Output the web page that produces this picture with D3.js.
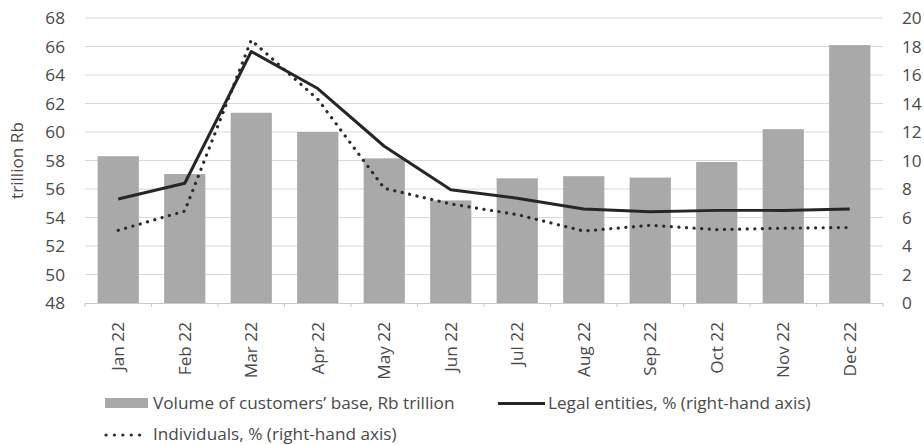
<!DOCTYPE html>
<html>
<head>
<meta charset="utf-8">
<script src="https://cdn.jsdelivr.net/npm/d3@7"></script>
<style>
  html, body { margin: 0; padding: 0; background: #fff; }
  svg { display: block; font-family: "Open Sans", sans-serif; }
</style>
</head>
<body>
<svg id="chart" width="924" height="445"></svg>
<script>
// Monthly data, 2022
const months = ["Jan 22", "Feb 22", "Mar 22", "Apr 22", "May 22", "Jun 22",
                "Jul 22", "Aug 22", "Sep 22", "Oct 22", "Nov 22", "Dec 22"];
// Volume of customers' base, Rb trillion (left axis)
const volume = [58.3, 57.05, 61.35, 60.0, 58.15, 55.2, 56.75, 56.9, 56.8, 57.9, 60.2, 66.1];
// Legal entities, % (right axis)
const legal = [7.3, 8.4, 17.65, 15.05, 11.0, 7.95, 7.35, 6.6, 6.4, 6.5, 6.5, 6.6];
// Individuals, % (right axis)
const individuals = [5.1, 6.45, 18.45, 14.3, 8.05, 6.95, 6.2, 5.05, 5.45, 5.15, 5.25, 5.3];
const leftTicks = [48, 50, 52, 54, 56, 58, 60, 62, 64, 66, 68];
const rightTicks = [0, 2, 4, 6, 8, 10, 12, 14, 16, 18, 20];

const svg = d3.select("#chart");
const m = { left: 85, right: 883, top: 18, bottom: 303 };
const textColor = "#4a4a4a";
const fs = 17.2;

const x = d3.scaleBand().domain(months).range([m.left, m.right]).paddingInner(0.38).paddingOuter(0.19);
const xc = d => x(d) + x.bandwidth() / 2;
const yL = d3.scaleLinear().domain([48, 68]).range([m.bottom, m.top]);
const yR = d3.scaleLinear().domain([0, 20]).range([m.bottom, m.top]);

// Gridlines
svg.append("g").selectAll("line").data(leftTicks.slice(1)).join("line")
  .attr("x1", m.left).attr("x2", m.right)
  .attr("y1", d => yL(d)).attr("y2", d => yL(d))
  .attr("stroke", "#d9d9d9").attr("stroke-width", 1);

// Bars
svg.append("g").selectAll("rect").data(months).join("rect")
  .attr("x", d => x(d))
  .attr("width", x.bandwidth())
  .attr("y", (d, i) => yL(volume[i]))
  .attr("height", (d, i) => yL(48) - yL(volume[i]))
  .attr("fill", "#a9a9a9");

// Category axis with boundary ticks
const step = (m.right - m.left) / months.length;
const xAxisG = svg.append("g");
xAxisG.append("line").attr("x1", m.left).attr("x2", m.right)
  .attr("y1", m.bottom + 0.5).attr("y2", m.bottom + 0.5)
  .attr("stroke", "#c8c8c8");
xAxisG.selectAll("line.tk").data(d3.range(months.length + 1)).join("line")
  .attr("class", "tk")
  .attr("x1", i => m.left + i * step).attr("x2", i => m.left + i * step)
  .attr("y1", m.bottom).attr("y2", m.bottom + 4)
  .attr("stroke", "#c8c8c8");
xAxisG.selectAll("text").data(months).join("text")
  .attr("transform", d => `translate(${xc(d) + 6},${m.bottom + 19}) rotate(-90)`)
  .attr("text-anchor", "end")
  .attr("fill", textColor).attr("font-size", fs)
  .text(d => d);

// Left axis
const leftAxis = d3.axisLeft(yL).tickValues(leftTicks).tickSize(0).tickPadding(20);
svg.append("g").attr("transform", `translate(${m.left},0)`).call(leftAxis)
  .call(g => g.select(".domain").remove())
  .call(g => g.selectAll("text").attr("fill", textColor).attr("font-size", fs)
    .attr("font-family", "Open Sans, sans-serif"));

// Right axis
const rightAxis = d3.axisRight(yR).tickValues(rightTicks).tickSize(0).tickPadding(19);
svg.append("g").attr("transform", `translate(${m.right},0)`).call(rightAxis)
  .call(g => g.select(".domain").remove())
  .call(g => g.selectAll("text").attr("fill", textColor).attr("font-size", fs)
    .attr("font-family", "Open Sans, sans-serif"));

// Left axis title
svg.append("text")
  .attr("transform", `translate(23,${(m.top + m.bottom) / 2}) rotate(-90)`)
  .attr("text-anchor", "middle")
  .attr("fill", textColor).attr("font-size", fs)
  .text("trillion Rb");

// Lines
const line = d3.line().x((d, i) => xc(months[i])).y(d => yR(d));
svg.append("path").datum(individuals).attr("d", line)
  .attr("fill", "none").attr("stroke", "#2b2b2b").attr("stroke-width", 3.2)
  .attr("stroke-linecap", "round").attr("stroke-dasharray", "0.1 7.5");
svg.append("path").datum(legal).attr("d", line)
  .attr("fill", "none").attr("stroke", "#262626").attr("stroke-width", 3)
  .attr("stroke-linejoin", "round");

// Legend
const lg = svg.append("g").attr("fill", textColor).attr("font-size", fs);
lg.append("rect").attr("x", 105).attr("y", 398).attr("width", 43).attr("height", 10).attr("fill", "#a9a9a9");
lg.append("text").attr("x", 153).attr("y", 409).text("Volume of customers\u2019 base, Rb trillion");
lg.append("line").attr("x1", 498).attr("x2", 545).attr("y1", 403.5).attr("y2", 403.5)
  .attr("stroke", "#262626").attr("stroke-width", 3);
lg.append("text").attr("x", 548).attr("y", 409).text("Legal entities, % (right-hand axis)");
lg.append("line").attr("x1", 106).attr("x2", 148).attr("y1", 435).attr("y2", 435)
  .attr("stroke", "#2b2b2b").attr("stroke-width", 3.2)
  .attr("stroke-linecap", "round").attr("stroke-dasharray", "0.1 8.3");
lg.append("text").attr("x", 153).attr("y", 440).text("Individuals, % (right-hand axis)");
</script>
</body>
</html>
